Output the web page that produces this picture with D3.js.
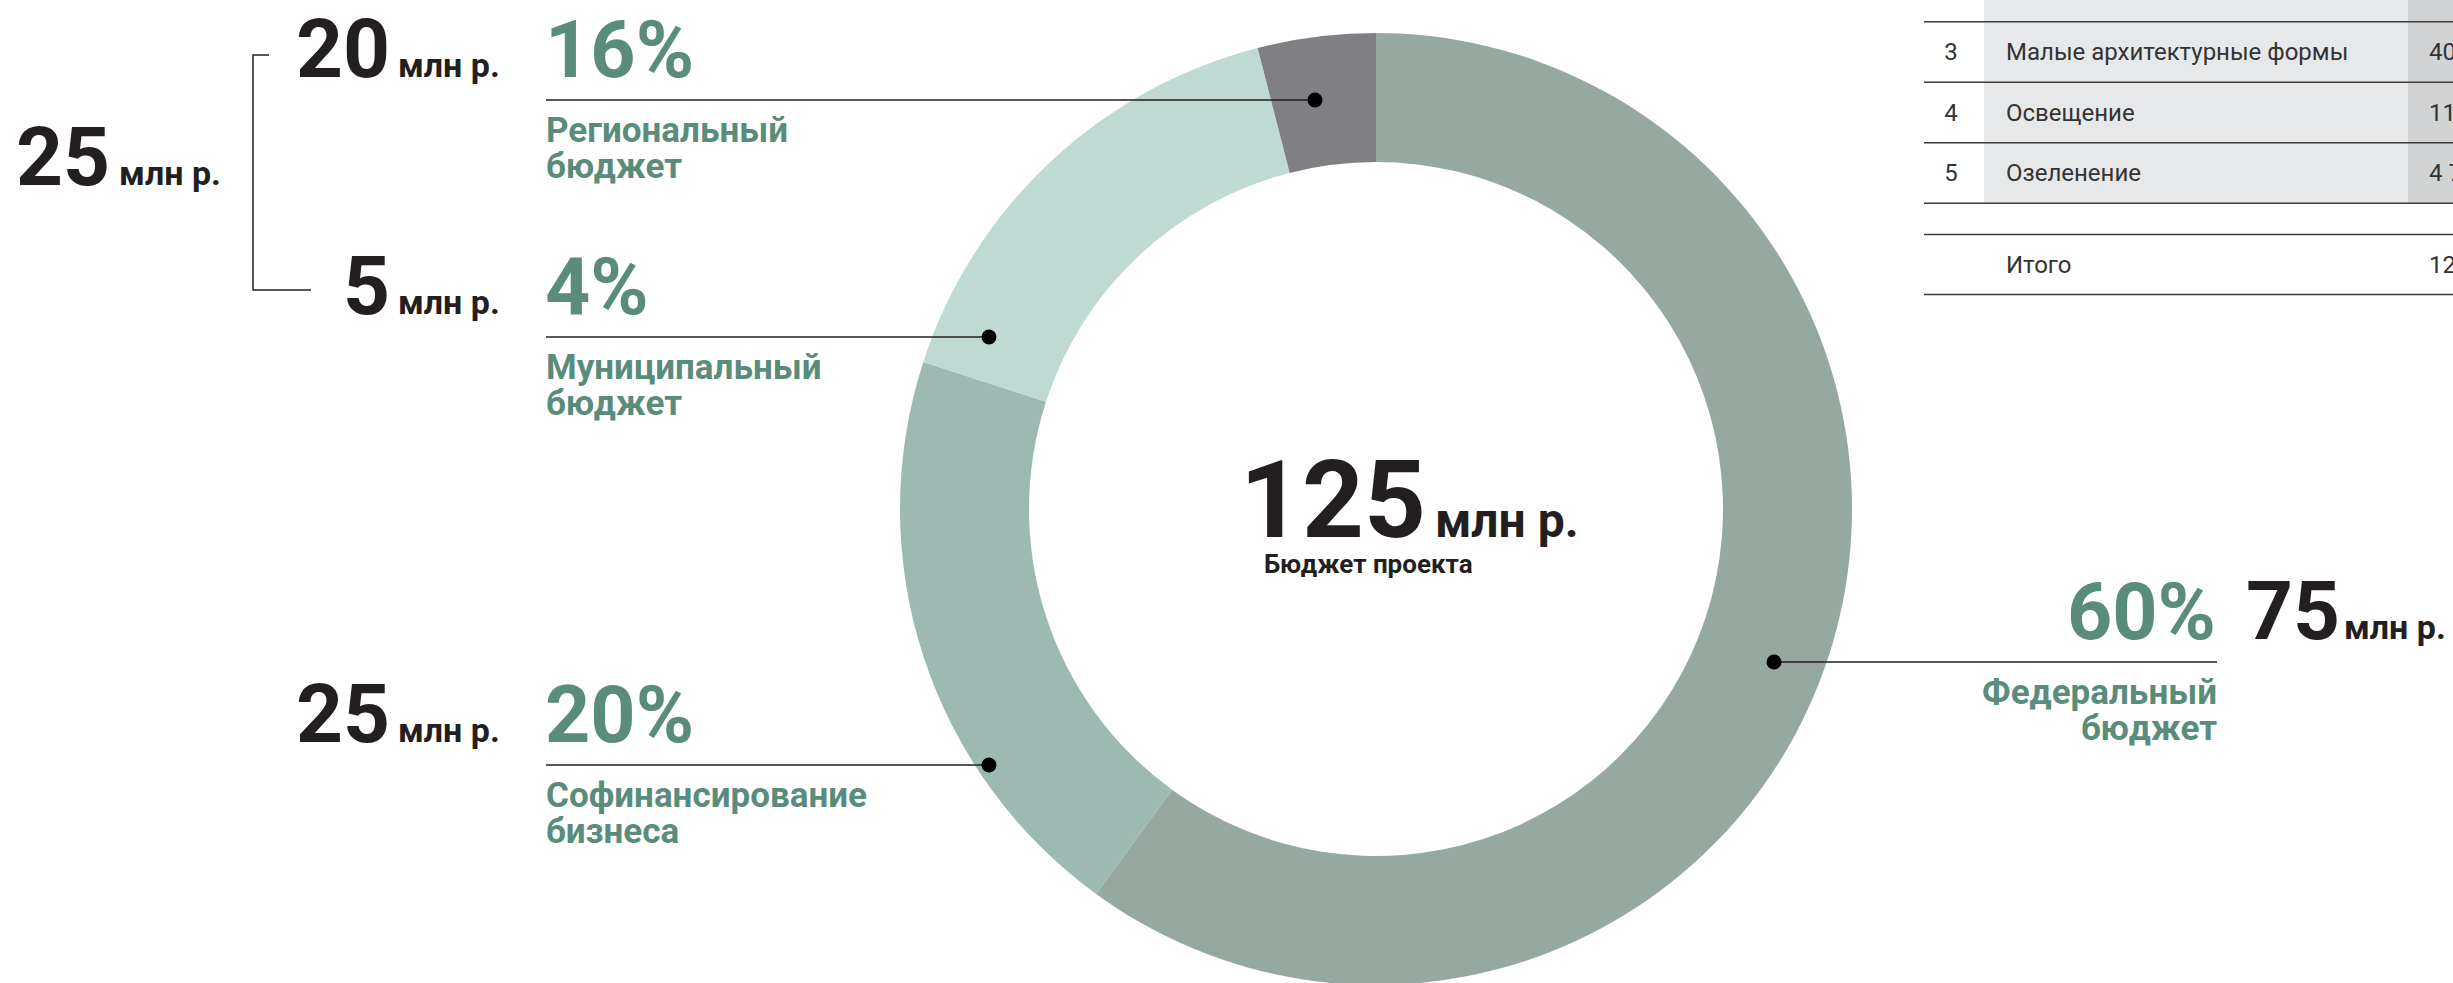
<!DOCTYPE html>
<html>
<head>
<meta charset="utf-8">
<script src="https://cdn.jsdelivr.net/npm/d3@7"></script>
<style>
	body { margin: 0; background: #fff; }
	svg { display: block; font-family: Roboto, sans-serif; }
</style>
</head>
<body>
<div id="chart"></div>
<script>
// data
var sources = ['Федеральный бюджет', 'Софинансирование бизнеса', 'Региональный бюджет', 'Муниципальный бюджет'];
var shares = [60, 20, 16, 4];
var amounts = [75, 25, 20, 5];
var totalAmount = 125;
var subsidyAmount = 25; // regional + municipal
var unit = 'млн р.';
var totalCaption = 'Бюджет проекта';

// cost table (cut off by the page edge)
var tableNums = [3, 4, 5];
var tableItems = ['Малые архитектурные формы', 'Освещение', 'Озеленение'];
var tableValues = ['40', '11', '4 7'];
var totalLabel = 'Итого';
var totalValue = '12';

// build canvas
var width = 2453,
	height = 983;

var svg = d3.select('#chart')
			.append('svg')
			.attr('width', width)
			.attr('height', height);

var ink = '#231f20',
	green = '#5a8c7c';

var cx = 1376, cy = 509,
	outerR = 476, innerR = 347;

var color = d3.scaleOrdinal()
			.domain(sources)
			.range(['#95a9a1', '#9cbab1', '#bfdad3', '#808084']);

// where each callout sits, same order as sources
var callouts = [
	{side: 'right', y: 662, dotX: 1774},
	{side: 'left', y: 765, dotX: 989},
	{side: 'left', y: 100, dotX: 1315},
	{side: 'left', y: 337, dotX: 989}
];

// donut
var pie = d3.pie().sort(null).value(d => d.share);
var arc = d3.arc().innerRadius(innerR).outerRadius(outerR);

var slices = sources.map((s, i) => ({name: s, share: shares[i], amount: amounts[i], pos: callouts[i]}));

svg.append('g')
	.attr('transform', `translate(${cx},${cy})`)
	.selectAll('path')
	.data(pie(slices)).enter()
	.append('path')
	.attr('fill', d => color(d.data.name))
	.attr('d', arc);

// centre total
var centre = svg.append('text')
	.attr('x', 1240)
	.attr('y', 537)
	.attr('fill', ink)
	.attr('font-weight', 700);
centre.append('tspan').attr('font-size', 108).text(totalAmount);
centre.append('tspan').attr('dx', 9).attr('font-size', 48).text(unit);

svg.append('text')
	.attr('x', 1264)
	.attr('y', 573)
	.attr('fill', ink)
	.attr('font-weight', 700)
	.attr('font-size', 26)
	.text(totalCaption);

// callouts
var call = svg.append('g')
	.selectAll('g')
	.data(slices).enter()
	.append('g');

call.append('line')
	.attr('x1', d => d.pos.side == 'left' ? 546 : d.pos.dotX)
	.attr('x2', d => d.pos.side == 'left' ? d.pos.dotX : 2217)
	.attr('y1', d => d.pos.y)
	.attr('y2', d => d.pos.y)
	.attr('stroke', ink)
	.attr('stroke-width', 1.6);

call.append('circle')
	.attr('cx', d => d.pos.dotX)
	.attr('cy', d => d.pos.y)
	.attr('r', 7.5)
	.attr('fill', '#000');

call.append('text')
	.attr('x', d => d.pos.side == 'left' ? 545 : 2216)
	.attr('y', d => d.pos.y - 23)
	.attr('text-anchor', d => d.pos.side == 'left' ? 'start' : 'end')
	.attr('fill', green)
	.attr('font-weight', 700)
	.attr('font-size', 79)
	.text(d => d.share + '%');

call.append('text')
	.attr('x', d => d.pos.side == 'left' ? 390 : 2246)
	.attr('y', d => d.pos.y - 23)
	.attr('text-anchor', d => d.pos.side == 'left' ? 'end' : 'start')
	.attr('fill', ink)
	.attr('font-weight', 700)
	.attr('font-size', 82)
	.text(d => d.amount);

call.append('text')
	.attr('x', d => d.pos.side == 'left' ? 398 : 2344)
	.attr('y', d => d.pos.y - 23)
	.attr('fill', ink)
	.attr('font-weight', 700)
	.attr('font-size', 34)
	.text(unit);

call.append('text')
	.attr('text-anchor', d => d.pos.side == 'left' ? 'start' : 'end')
	.attr('fill', green)
	.attr('font-weight', 700)
	.attr('font-size', 35)
	.selectAll('tspan')
	.data(d => d.name.split(' ').map((w, k) => ({w: w, k: k, d: d}))).enter()
	.append('tspan')
	.attr('x', t => t.d.pos.side == 'left' ? 546 : 2217)
	.attr('y', t => t.d.pos.y + (t.k ? 78 : 42))
	.text(t => t.w);

// regional + municipal bracket
svg.append('path')
	.attr('d', 'M269,55H253V290H311')
	.attr('fill', 'none')
	.attr('stroke', ink)
	.attr('stroke-width', 1.5);

var sub = svg.append('text')
	.attr('x', 16)
	.attr('y', 185)
	.attr('fill', ink)
	.attr('font-weight', 700);
sub.append('tspan').attr('font-size', 82).text(subsidyAmount);
sub.append('tspan').attr('dx', 9).attr('font-size', 34).text(unit);

// table
var table = svg.append('g');
var rowY = d3.scaleLinear().domain([2, 3]).range([-8.5, 52]);
var step = rowY(3) - rowY(2);

var bodyRows = [2].concat(tableNums);

table.selectAll('rect.name')
	.data(bodyRows).enter()
	.append('rect')
	.attr('x', 1984)
	.attr('y', d => rowY(d) - step / 2)
	.attr('width', 424)
	.attr('height', step)
	.attr('fill', '#e7e8ea');

table.selectAll('rect.val')
	.data(bodyRows).enter()
	.append('rect')
	.attr('x', 2408)
	.attr('y', d => rowY(d) - step / 2)
	.attr('width', 60)
	.attr('height', step)
	.attr('fill', '#d2d3d5');

var lineYs = bodyRows.map(d => rowY(d) + step / 2).concat([234.5, 294.5]);
table.selectAll('line')
	.data(lineYs).enter()
	.append('line')
	.attr('x1', 1924)
	.attr('x2', width)
	.attr('y1', d => d)
	.attr('y2', d => d)
	.attr('stroke', '#3a3a3a')
	.attr('stroke-width', 1.5);

var rows = table.selectAll('g.row')
	.data(tableNums).enter()
	.append('g')
	.attr('transform', d => `translate(0,${rowY(d)})`)
	.attr('font-size', 24)
	.attr('fill', '#333');

rows.append('text').attr('x', 1951).attr('dy', '0.35em').attr('text-anchor', 'middle').text(d => d);
rows.append('text').attr('x', 2006).attr('dy', '0.35em').text((d, i) => tableItems[i]);
rows.append('text').attr('x', 2429).attr('dy', '0.35em').text((d, i) => tableValues[i]);

var totalRow = table.append('g')
	.attr('transform', 'translate(0,264.5)')
	.attr('font-size', 24)
	.attr('fill', '#333');
totalRow.append('text').attr('x', 2006).attr('dy', '0.35em').text(totalLabel);
totalRow.append('text').attr('x', 2429).attr('dy', '0.35em').text(totalValue);
</script>
</body>
</html>
